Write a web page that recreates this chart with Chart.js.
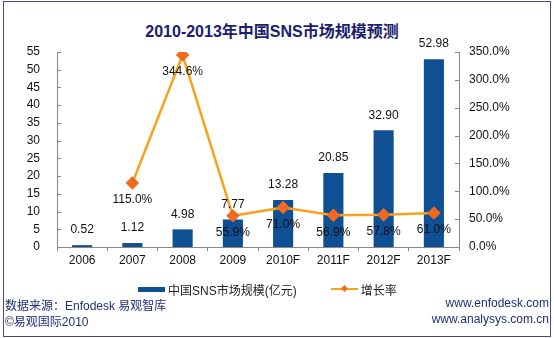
<!DOCTYPE html>
<html>
<head>
  <title>SNS</title>
  <script src="https://cdn.jsdelivr.net/npm/chart.js"></script>
  <style>
    body { margin: 0; background: #fff; font-family: Arial, "Liberation Sans", "Noto Sans CJK SC", sans-serif; }
    #wrap { position: relative; width: 554px; height: 338px; overflow: hidden; }
    #frame { position: absolute; left: 3px; top: 1px; width: 546px; height: 334px; border: 1px solid #4b4a7c; }
    #title { position: absolute; left: 0; width: 544px; top: 18px; text-align: center; font: bold 16px Arial, "Liberation Sans", "Noto Sans CJK SC", sans-serif; color: #1c1d6e; }
    #legend { position: absolute; top: 281px; left: 138px; font-size: 12px; color: #222; white-space: nowrap; }
    #legend span { display: inline-block; vertical-align: middle; }
    .foot { position: absolute; font-size: 12px; color: #1f2f7a; }
    canvas { position: absolute; left: 0; top: 0; }
  </style>
</head>
<body>
  <div id="wrap">
    <div id="frame"></div>
    <div id="title">2010-2013年中国SNS市场规模预测</div>
    <canvas id="myChart" width="554" height="338"></canvas>
    <div id="legend"></div>
    <div class="foot" style="left:5px; top:296px;">数据来源：Enfodesk 易观智库</div>
    <div class="foot" style="left:5px; top:312px;">©易观国际2010</div>
    <div class="foot" style="right:5px; top:296px;">www.enfodesk.com</div>
    <div class="foot" style="right:5px; top:312px;">www.analysys.com.cn</div>
  </div>

  <script>
    var years = ['2006', '2007', '2008', '2009', '2010F', '2011F', '2012F', '2013F'];
    var marketSize = [0.52, 1.12, 4.98, 7.77, 13.28, 20.85, 32.90, 52.98];
    var growthRate = [null, 115.0, 344.6, 55.9, 71.0, 56.9, 57.8, 61.0];
    var seriesNames = ['中国SNS市场规模(亿元)', '增长率'];

    var barColor = '#0f4f93';
    var lineColor = '#f7a21c';
    var pointColor = '#f26a1f';

    // legend in html
    var legend = document.getElementById('legend');
    legend.innerHTML =
      '<span style="width:27px;height:5px;background:' + barColor + ';margin-right:3px"></span>' +
      '<span>' + seriesNames[0] + '</span>' +
      '<span style="width:34px"></span>' +
      '<span style="position:relative;width:27px;height:9px;margin-right:3px">' +
        '<span style="position:absolute;left:0;top:3px;width:27px;height:2px;background:' + lineColor + '"></span>' +
        '<span style="position:absolute;left:11px;top:1px;width:5px;height:5px;background:' + pointColor + ';transform:rotate(45deg)"></span>' +
      '</span>' +
      '<span>' + seriesNames[1] + '</span>';

    var labelPlugin = {
      id: 'valueLabels',
      afterDatasetsDraw: function(chart) {
        var ctx = chart.ctx;
        ctx.save();
        ctx.font = '12px Arial, "Liberation Sans"';
        ctx.fillStyle = '#111';
        ctx.textAlign = 'center';
        ctx.textBaseline = 'middle';
        var bars = chart.getDatasetMeta(1).data;
        bars.forEach(function(el, i) {
          ctx.fillText(marketSize[i].toFixed(2), el.x, el.y - 15);
        });
        var pts = chart.getDatasetMeta(0).data;
        pts.forEach(function(el, i) {
          if (growthRate[i] === null) return;
          ctx.fillText(growthRate[i].toFixed(1) + '%', el.x, el.y + 17);
        });
        // inward tick marks on the y axes
        ctx.strokeStyle = '#888';
        ctx.lineWidth = 1;
        var y = chart.scales.y, y1 = chart.scales.y1;
        y.ticks.forEach(function(t, i) {
          var py = Math.round(y.getPixelForTick(i)) + 0.5;
          ctx.beginPath(); ctx.moveTo(y.right, py); ctx.lineTo(y.right + 4, py); ctx.stroke();
        });
        y1.ticks.forEach(function(t, i) {
          var py = Math.round(y1.getPixelForTick(i)) + 0.5;
          ctx.beginPath(); ctx.moveTo(y1.left, py); ctx.lineTo(y1.left - 4, py); ctx.stroke();
        });
        ctx.restore();
      }
    };

    var ctx = document.getElementById('myChart').getContext('2d');
    var chart = new Chart(ctx, {
      data: {
        labels: years,
        datasets: [{
          type: 'line',
          label: seriesNames[1],
          data: growthRate,
          yAxisID: 'y1',
          borderColor: lineColor,
          borderWidth: 2.5,
          pointStyle: 'rectRot',
          pointRadius: 5,
          pointBackgroundColor: pointColor,
          pointBorderColor: pointColor,
          spanGaps: false,
          order: 0
        }, {
          type: 'bar',
          label: seriesNames[0],
          data: marketSize,
          yAxisID: 'y',
          backgroundColor: barColor,
          barPercentage: 0.8,
          categoryPercentage: 0.5,
          order: 1
        }]
      },
      options: {
        responsive: false,
        animation: false,
        layout: { padding: { top: 52, left: 0, right: 0, bottom: 0 } },
        plugins: { legend: { display: false }, title: { display: false }, tooltip: { enabled: false } },
        scales: {
          x: {
            offset: true,
            grid: { offset: true, drawOnChartArea: false, tickLength: 4, color: '#888' },
            border: { color: '#888' },
            ticks: { color: '#111', font: { size: 12, family: 'Arial' }, padding: 2, maxRotation: 0 },
            afterFit: function(axis) { axis.height = 91; }
          },
          y: {
            position: 'left',
            min: 0, max: 55,
            ticks: { stepSize: 5, color: '#111', font: { size: 12, family: 'Arial' }, padding: 17 },
            grid: { display: false, drawTicks: false },
            border: { color: '#888' },
            afterFit: function(axis) { axis.width = 57; }
          },
          y1: {
            position: 'right',
            min: 0, max: 350,
            ticks: {
              stepSize: 50, color: '#111', font: { size: 12, family: 'Arial' }, padding: 10,
              callback: function(v) { return v.toFixed(1) + '%'; }
            },
            grid: { display: false, drawTicks: false },
            border: { color: '#888' },
            afterFit: function(axis) { axis.width = 95; }
          }
        }
      },
      plugins: [labelPlugin]
    });
  </script>
</body>
</html>
